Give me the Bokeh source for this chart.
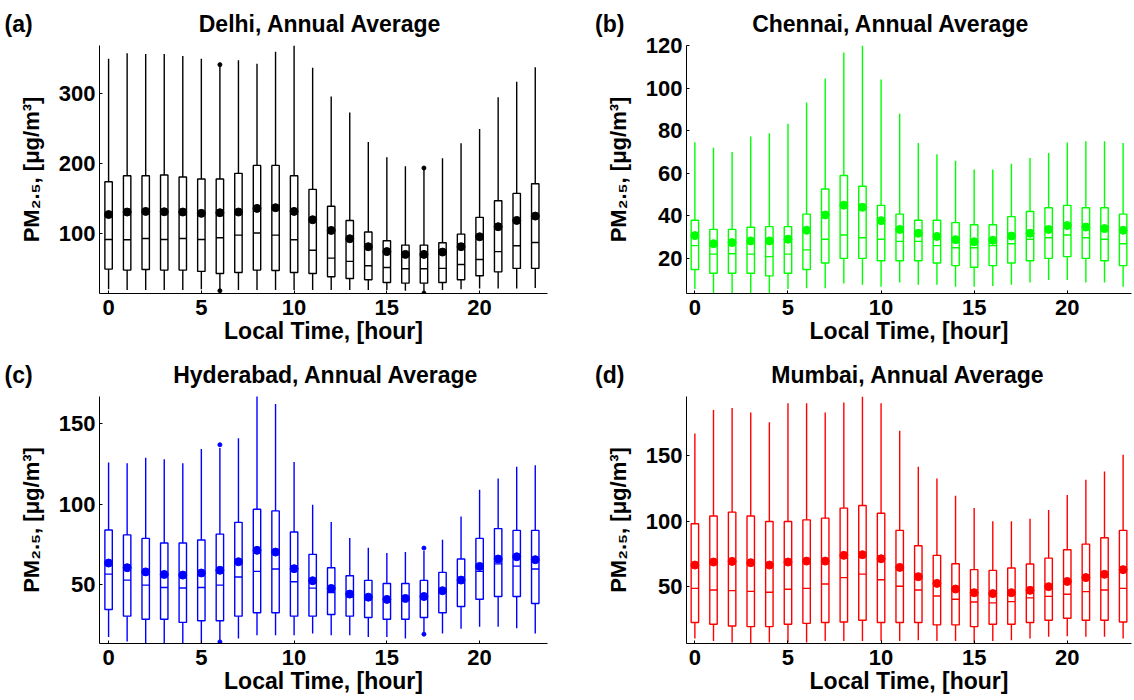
from bokeh.plotting import figure
from bokeh.layouts import column, row
from bokeh.models import Range1d, FixedTicker, ColumnDataSource
from bokeh.embed import file_html
from bokeh.resources import INLINE

hours = list(range(24))

# ---------------- Delhi ----------------
delhi_hi = [350, 358, 357, 357, 354, 350, 340, 348, 343, 360, 369, 337, 296, 273, 231, 209, 196, 192, 207.5, 229, 249.5, 295, 317, 338]
delhi_q3 = [174, 182.6, 182.6, 183.6, 180.7, 177.8, 177.8, 186, 197.4, 197.4, 182.6, 163, 139, 118.6, 102, 89.5, 83.3, 83.3, 86.6, 99, 123, 146.8, 157.3, 171]
delhi_med = [91.4, 91, 92.8, 91.4, 92.8, 91.4, 93.8, 97.6, 100.5, 97.6, 91, 76, 64.7, 60, 53.7, 51.3, 49.4, 49.4, 50, 55.6, 62.7, 74, 82.3, 87]
delhi_q1 = [48.9, 47.5, 48.4, 47.5, 47.5, 45.6, 42.7, 44, 47.5, 47, 44, 42.7, 38, 35.5, 33.6, 29.8, 28.8, 28.8, 29.8, 33.6, 39.4, 45, 49.9, 49.9]
delhi_lo = [20, 19, 19, 19, 19, 20, 19, 19, 19, 19, 19, 19, 19, 19, 19, 19, 18, 16, 19, 20, 21, 21, 21, 21.7]
delhi_mean = [127, 130.6, 131.5, 131, 130.6, 128.7, 129.6, 130.6, 135.8, 136.8, 131.5, 119.6, 104.3, 92.4, 81, 74, 70, 70, 73.3, 81, 95.2, 109.6, 118.6, 124.8]
delhi_out_x = [6, 6, 17, 17]
delhi_out_y = [341.6, 17.9, 193.6, 14.5]

# ---------------- Chennai ----------------
chennai_hi = [74.5, 72, 70, 77.2, 78.8, 83.2, 93.2, 104.5, 116.7, 120, 104, 87.9, 74.2, 68.9, 65.9, 61.8, 61.8, 64.4, 67.2, 69.5, 74.4, 75, 75, 74.2]
chennai_q3 = [37.9, 33.6, 33.6, 34.6, 34.9, 34.9, 40.8, 52.6, 58.9, 53.9, 44.9, 40.8, 37.9, 37.9, 36.8, 35.8, 35.8, 39.6, 42, 43.8, 44.9, 43.8, 43.8, 40.8]
chennai_med = [26, 22, 22.2, 22, 20.8, 22, 24, 29, 31, 29.7, 29, 28, 28, 26, 25, 25, 26, 26.9, 29, 29.7, 31, 29.7, 29, 26.9]
chennai_q1 = [14.8, 13, 13, 13, 11.8, 13, 14.8, 17.8, 20, 20, 18.9, 18.9, 18.9, 17.8, 16.6, 15.8, 16.6, 17.8, 18.9, 20, 20.8, 20, 18.9, 16.6]
chennai_lo = [5.6, 3, 3, 3, 3, 5.6, 6, 6, 8.2, 7.6, 6.7, 8.7, 7.6, 7.6, 6.7, 6.7, 7, 7.6, 8.7, 9.8, 9.8, 8.7, 8.7, 6.7]
chennai_mean = [30.7, 26.9, 27.4, 28.2, 28.2, 29, 33.2, 40.4, 45, 44, 37.7, 33.6, 31.8, 30.3, 28.8, 27.8, 28.5, 30.5, 31.8, 33.6, 35.4, 34.7, 34, 33.2]
chennai_out_x = []
chennai_out_y = []

# ---------------- Hyderabad ----------------
hyd_hi = [126, 125.5, 129, 128, 125.5, 134.4, 135, 141, 167.6, 162.4, 126.3, 99.8, 89, 79, 73, 69.7, 70.3, 71, 78, 92.5, 109, 116, 123.4, 124.3]
hyd_q3 = [84, 81, 78.8, 76, 76, 77.8, 81.5, 88.8, 96.9, 95.9, 82.8, 68.9, 60.6, 55.6, 52.7, 50.8, 50.8, 52.7, 57.7, 66, 78.8, 84.9, 83.8, 83.8]
hyd_med = [56.6, 52.9, 49.8, 48.3, 48, 48.3, 49.8, 54.8, 58.3, 59.8, 51.9, 47.9, 45.2, 42.5, 41.7, 40.9, 40.9, 42.7, 46.3, 52, 58.3, 63, 61.6, 59.8]
hyd_q1 = [34.6, 30.5, 28.6, 28.6, 26.6, 27.6, 27.6, 30.5, 32.6, 32.6, 30.5, 30.5, 31.5, 30.5, 29.7, 28.6, 28.6, 29.7, 32.6, 36.5, 41, 42.7, 42.7, 38.4]
hyd_lo = [17.6, 14.7, 13, 13, 13, 13, 15.5, 16.6, 18.7, 18.7, 18.7, 19.7, 18.7, 18.7, 17.6, 17.6, 16.6, 20.5, 19.7, 22.6, 23.9, 23.9, 23, 19.7]
hyd_mean = [63.5, 60.6, 58, 56.4, 56, 57.3, 59, 64.3, 71.4, 70.3, 60, 52.5, 47.7, 44.2, 42.3, 40.9, 41.5, 42.7, 46.3, 52.9, 61.4, 66, 67.4, 65.6]
hyd_out_x = [6, 6, 17, 17]
hyd_out_y = [137, 14.5, 72.8, 19.3]

# ---------------- Mumbai ----------------
mum_hi = [167, 184.8, 186.5, 183, 175.6, 190, 190, 183, 190.6, 195.2, 190, 169, 141.6, 132.5, 119.5, 110, 100, 100, 101.8, 108.6, 120, 131.7, 138, 150.8]
mum_q3 = [98, 104, 106.9, 104, 99.7, 99.7, 101, 102.3, 110, 112, 106, 93, 81.2, 73.9, 67.5, 63, 62.4, 64.2, 67.3, 71.8, 78.2, 82.5, 87.3, 93]
mum_med = [48.7, 47.5, 47, 46.4, 45.7, 48, 48.7, 52, 56.9, 59.6, 55.3, 50.3, 47.5, 42.9, 40.4, 38.3, 37.6, 38.6, 41.4, 42.6, 44.2, 46.2, 47.5, 48.7]
mum_q1 = [22.6, 21.3, 20, 19.5, 19.5, 21.3, 22, 22.6, 23, 24.4, 22.6, 22.6, 22.6, 20.8, 20.8, 19.5, 21.3, 21.3, 22.6, 24.4, 25.9, 24.4, 24.4, 23]
mum_lo = [10.4, 8.6, 7.4, 6, 7.4, 7.4, 7.4, 8.6, 8.6, 8.6, 8.6, 8.6, 9.1, 8.6, 8.6, 7.4, 8.6, 9.1, 10.4, 11.7, 12.2, 11.7, 11.7, 10.4]
mum_mean = [66.5, 68.8, 69.3, 68.3, 66.5, 68.8, 69.5, 69.5, 73.9, 74.4, 71.3, 64.7, 57.6, 52.5, 48.2, 45.4, 44.7, 45.4, 47.2, 50, 54, 56.9, 59.4, 63]
mum_out_x = []
mum_out_y = []

x_ticks = [0, 5, 10, 15, 20]
FONT = "Liberation Sans"
BOX_W = 0.4
NBSP = "\u00a0"


def panel(tag, title, gap, color, hi, q3, med, q1, lo, mean, ox, oy,
          yr, yticks, xr, width, height, bl, br, bt, bb, toff):
    p = figure(width=width, height=height, output_backend="svg", toolbar_location=None,
               x_range=Range1d(*xr), y_range=Range1d(*yr),
               min_border_left=bl, min_border_right=br, min_border_top=bt, min_border_bottom=bb)
    p.outline_line_color = None
    p.xgrid.visible = False
    p.ygrid.visible = False
    p.background_fill_color = "white"
    p.border_fill_color = "white"

    src = ColumnDataSource(dict(
        x=hours, hi=hi, q3=q3, med=med, q1=q1, lo=lo, mean=mean,
        xl=[h - BOX_W / 2 for h in hours], xr=[h + BOX_W / 2 for h in hours]))

    p.segment(x0="x", y0="q3", x1="x", y1="hi", source=src, line_color=color, line_width=1.4)
    p.segment(x0="x", y0="lo", x1="x", y1="q1", source=src, line_color=color, line_width=1.4)
    p.vbar(x="x", width=BOX_W, top="q3", bottom="q1", source=src,
           fill_color=None, line_color=color, line_width=1.4)
    p.segment(x0="xl", y0="med", x1="xr", y1="med", source=src, line_color=color, line_width=1.4)
    p.scatter(x="x", y="mean", source=src, size=8, color=color)
    if ox:
        p.scatter(x=ox, y=oy, size=4, color=color)

    # panel tag and title share one title line
    p.title.text = tag + NBSP * gap + title
    p.title.align = "left"
    p.title.offset = toff
    p.title.text_font = FONT
    p.title.text_font_style = "bold"
    p.title.text_font_size = "23px"
    p.title.text_color = "black"
    p.title.standoff = 17

    for ax in (p.xaxis[0], p.yaxis[0]):
        ax.major_label_text_font = FONT
        ax.major_label_text_font_style = "bold"
        ax.major_label_text_font_size = "22px"
        ax.axis_label_text_font = FONT
        ax.axis_label_text_font_style = "bold"
        ax.axis_label_text_font_size = "23px"
        ax.major_tick_in = 3
        ax.major_tick_out = 0
        ax.minor_tick_in = 0
        ax.minor_tick_out = 0
        ax.axis_line_color = "black"
        ax.major_tick_line_color = "black"
        ax.major_label_text_color = "black"
        ax.axis_label_text_color = "black"

    p.xaxis[0].ticker = FixedTicker(ticks=x_ticks)
    p.yaxis[0].ticker = FixedTicker(ticks=yticks)
    p.xaxis[0].axis_label = "Local Time, [hour]"
    p.yaxis[0].axis_label = "PM₂.₅, [μg/m³]"
    p.yaxis[0].axis_label_text_font_size = "22px"
    p.xaxis[0].major_label_standoff = 6
    p.xaxis[0].axis_label_standoff = 0
    p.yaxis[0].major_label_standoff = 4
    p.yaxis[0].axis_label_standoff = 12
    return p


pa = panel("(a)", "Delhi, Annual Average", 26, "black", delhi_hi, delhi_q3, delhi_med, delhi_q1,
           delhi_lo, delhi_mean, delhi_out_x, delhi_out_y,
           (14, 369), [100, 200, 300], (-0.49, 23.66), 567, 350, 99, 20, 45, 57, -95)
pb = panel("(b)", "Chennai, Annual Average", 20, "#00ff00", chennai_hi, chennai_q3, chennai_med, chennai_q1,
           chennai_lo, chennai_mean, chennai_out_x, chennai_out_y,
           (3.5, 120), [20, 40, 60, 80, 100, 120], (-0.45, 23.45), 567, 350, 119, 3, 45, 57, -91.5)
pc = panel("(c)", "Hyderabad, Annual Average", 22, "#0000ff", hyd_hi, hyd_q3, hyd_med, hyd_q1,
           hyd_lo, hyd_mean, hyd_out_x, hyd_out_y,
           (13.5, 167), [50, 100, 150], (-0.49, 23.66), 567, 350, 99, 20, 46, 57, -95)
pd_ = panel("(d)", "Mumbai, Annual Average", 23, "#ff0000", mum_hi, mum_q3, mum_med, mum_q1,
            mum_lo, mum_mean, mum_out_x, mum_out_y,
            (6.6, 195.2), [50, 100, 150], (-0.45, 23.45), 567, 350, 119, 3, 46, 57, -91.5)

layout = column(row(pa, pb), row(pc, pd_))
open("out.html", "w").write(file_html(layout, INLINE))
